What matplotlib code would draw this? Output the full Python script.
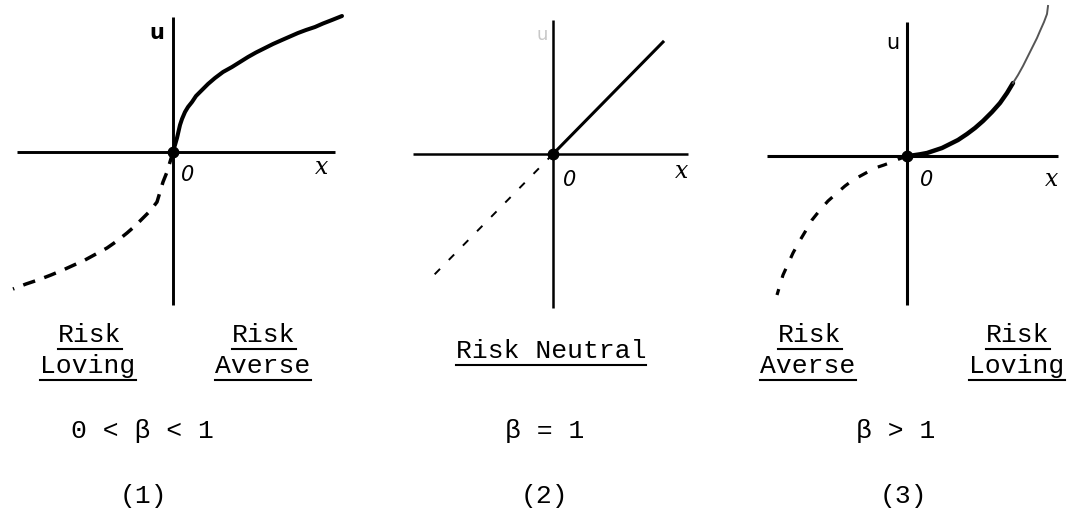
import matplotlib
matplotlib.use("Agg")
import matplotlib.pyplot as plt
from matplotlib.lines import Line2D

# ---------------- data (units: origin at 0) ----------------
# Panel 1: 0 < beta < 1 (concave for x>0)
p1_solid_x = [0, 0.01, 0.02, 0.04, 0.07, 0.09, 0.12, 0.15, 0.19, 0.23, 0.29, 0.35, 0.42, 0.50,
              0.59, 0.67, 0.75, 0.83, 0.92, 1.00, 1.09, 1.17, 1.25, 1.33, 1.42, 1.50, 1.59, 1.69]
p1_solid_u = [0, 0.04, 0.07, 0.14, 0.27, 0.33, 0.40, 0.45, 0.50, 0.56, 0.62, 0.68, 0.74, 0.80,
              0.85, 0.90, 0.95, 0.995, 1.04, 1.08, 1.12, 1.155, 1.19, 1.22, 1.25, 1.285, 1.32, 1.36]
p1_dash_x = [0, -0.03, -0.06, -0.10, -0.13, -0.16, -0.23, -0.30, -0.38, -0.46, -0.56, -0.66,
             -0.77, -0.88, -0.99, -1.10, -1.22, -1.35, -1.47, -1.60]
p1_dash_u = [0, -0.10, -0.20, -0.30, -0.40, -0.50, -0.59, -0.66, -0.74, -0.81, -0.89, -0.96,
             -1.02, -1.08, -1.13, -1.18, -1.23, -1.28, -1.32, -1.37]
p1_haxis = [-1.56, 1.62]
p1_vaxis = [-1.53, 1.35]

# Panel 2: beta = 1 (linear)
p2_solid_x = [0, 1.10]
p2_solid_u = [0, 1.12]
p2_dash_x = [0, -1.20]
p2_dash_u = [0, -1.22]
p2_haxis = [-1.40, 1.35]
p2_vaxis = [-1.54, 1.34]

# Panel 3: beta > 1 (convex for x>0)
p3_solid_x = [0, 0.05, 0.13, 0.20, 0.26, 0.35, 0.43, 0.51, 0.60, 0.68, 0.76, 0.85, 0.93, 1.00, 1.06]
p3_solid_u = [0, 0.005, 0.017, 0.03, 0.05, 0.08, 0.12, 0.16, 0.22, 0.28, 0.35, 0.44, 0.53, 0.63, 0.73]
p3_faint_x = [1.06, 1.11, 1.16, 1.21, 1.26, 1.30, 1.33, 1.37, 1.40, 1.41]
p3_faint_u = [0.73, 0.81, 0.90, 1.00, 1.10, 1.18, 1.25, 1.34, 1.42, 1.50]
p3_dash_x = [0, -0.08, -0.15, -0.23, -0.32, -0.43, -0.54, -0.62, -0.70, -0.79, -0.87, -0.95,
             -1.02, -1.08, -1.14, -1.19, -1.24, -1.27, -1.30]
p3_dash_u = [0, -0.03, -0.06, -0.09, -0.12, -0.18, -0.24, -0.30, -0.37, -0.45, -0.54, -0.64,
             -0.76, -0.86, -0.97, -1.08, -1.19, -1.29, -1.39]
p3_haxis = [-1.40, 1.51]
p3_vaxis = [-1.49, 1.34]

# Labels
panel_numbers = ["(1)", "(2)", "(3)"]
beta_labels = ["0 < β < 1", "β = 1", "β > 1"]
risk_labels_1 = [("Risk", "Loving"), ("Risk", "Averse")]
risk_label_2 = "Risk Neutral"
risk_labels_3 = [("Risk", "Averse"), ("Risk", "Loving")]

# ---------------- figure ----------------
W, H = 1068, 511
plt.rcParams["lines.scale_dashes"] = False
fig = plt.figure(figsize=(W / 100, H / 100), dpi=100)
fig.patch.set_facecolor("white")


def add_panel(L, R, ox, oy):
    ax = fig.add_axes([L / W, 0, (R - L) / W, 1])
    ax.set_xlim((L - ox) / 100, (R - ox) / 100)
    ax.set_ylim((oy - H) / 100, oy / 100)
    ax.axis("off")
    return ax


def draw_axes(ax, hx, vy, lw, color="black"):
    ax.plot(hx, [0, 0], color=color, lw=lw, solid_capstyle="butt", clip_on=False)
    ax.plot([0, 0], vy, color=color, lw=lw, solid_capstyle="butt", clip_on=False)


lab_kw = dict(ha="center", va="center", color="black")

# Panel 1
ax1 = add_panel(0, 356, 173, 152)
draw_axes(ax1, p1_haxis, p1_vaxis, 2.1)
ax1.plot(p1_solid_x, p1_solid_u, color="black", lw=2.9, solid_capstyle="round",
         solid_joinstyle="round")
ax1.plot(p1_dash_x, p1_dash_u, color="black", lw=2.5, dashes=(9.0, 7.0))
ax1.plot([0], [0], "o", color="black", ms=7.5)
ax1.text(-0.16, 1.19, "u", fontsize=15, fontweight="bold", family="DejaVu Sans", **lab_kw)
ax1.text(1.49, -0.15, "x", fontsize=17, family="DejaVu Serif", style="italic", **lab_kw)
ax1.text(0.15, -0.23, "0", fontsize=15, family="DejaVu Sans", style="italic", **lab_kw)

# Panel 2
ax2 = add_panel(356, 712, 553, 154)
draw_axes(ax2, p2_haxis, p2_vaxis, 1.8)
ax2.plot(p2_solid_x, p2_solid_u, color="black", lw=2.2)
ax2.plot(p2_dash_x, p2_dash_u, color="black", lw=1.4, dashes=(5.5, 9.0))
ax2.plot([0], [0], "o", color="black", ms=7.5)
ax2.text(-0.11, 1.19, "u", fontsize=13, color="#c8c8c8", ha="center", va="center", family="DejaVu Sans")
ax2.text(1.29, -0.18, "x", fontsize=17, family="DejaVu Serif", style="italic", **lab_kw)
ax2.text(0.17, -0.26, "0", fontsize=15, family="DejaVu Sans", style="italic", **lab_kw)

# Panel 3
ax3 = add_panel(712, 1068, 907, 156)
draw_axes(ax3, p3_haxis, p3_vaxis, 2.2)
ax3.plot(p3_solid_x, p3_solid_u, color="black", lw=3.2, solid_capstyle="round",
         solid_joinstyle="round")
ax3.plot(p3_faint_x, p3_faint_u, color="#555555", lw=1.4)
ax3.plot(p3_dash_x, p3_dash_u, color="black", lw=2.3, dashes=(7.0, 8.5))
ax3.plot([0], [0], "o", color="black", ms=7.5)
ax3.text(-0.14, 1.13, "u", fontsize=15, family="DejaVu Sans", **lab_kw)
ax3.text(1.45, -0.24, "x", fontsize=17, family="DejaVu Serif", style="italic", **lab_kw)
ax3.text(0.20, -0.24, "0", fontsize=15, family="DejaVu Sans", style="italic", **lab_kw)

# ---------------- bottom texts ----------------
MONO = "Liberation Mono"
FS = 19
underlined = []


def ftext(x_px, y_base_px, s, underline=False, fs=FS):
    t = fig.text(x_px / W, 1 - y_base_px / H, s, ha="center", va="baseline",
                 fontsize=fs, family=MONO, color="black")
    if underline:
        underlined.append((t, y_base_px))
    return t


# panel 1
ftext(90, 342, risk_labels_1[0][0], True)
ftext(88, 373, risk_labels_1[0][1], True)
ftext(264, 342, risk_labels_1[1][0], True)
ftext(263, 373, risk_labels_1[1][1], True)
ftext(142, 438, beta_labels[0])
ftext(143, 503, panel_numbers[0])
# panel 2
ftext(551, 358, risk_label_2, True)
ftext(545, 438, beta_labels[1])
ftext(544, 503, panel_numbers[1])
# panel 3
ftext(810, 342, risk_labels_3[0][0], True)
ftext(808, 373, risk_labels_3[0][1], True)
ftext(1018, 342, risk_labels_3[1][0], True)
ftext(1017, 373, risk_labels_3[1][1], True)
ftext(896, 438, beta_labels[2])
ftext(903, 503, panel_numbers[2])

fig.canvas.draw()
renderer = fig.canvas.get_renderer()
for t, yb in underlined:
    bb = t.get_window_extent(renderer)
    yf = 1 - (yb + 7) / H
    fig.add_artist(Line2D([bb.x0 / W, bb.x1 / W], [yf, yf], transform=fig.transFigure,
                          color="black", lw=1.5))

fig.savefig("out.png", dpi=100, facecolor="white")
